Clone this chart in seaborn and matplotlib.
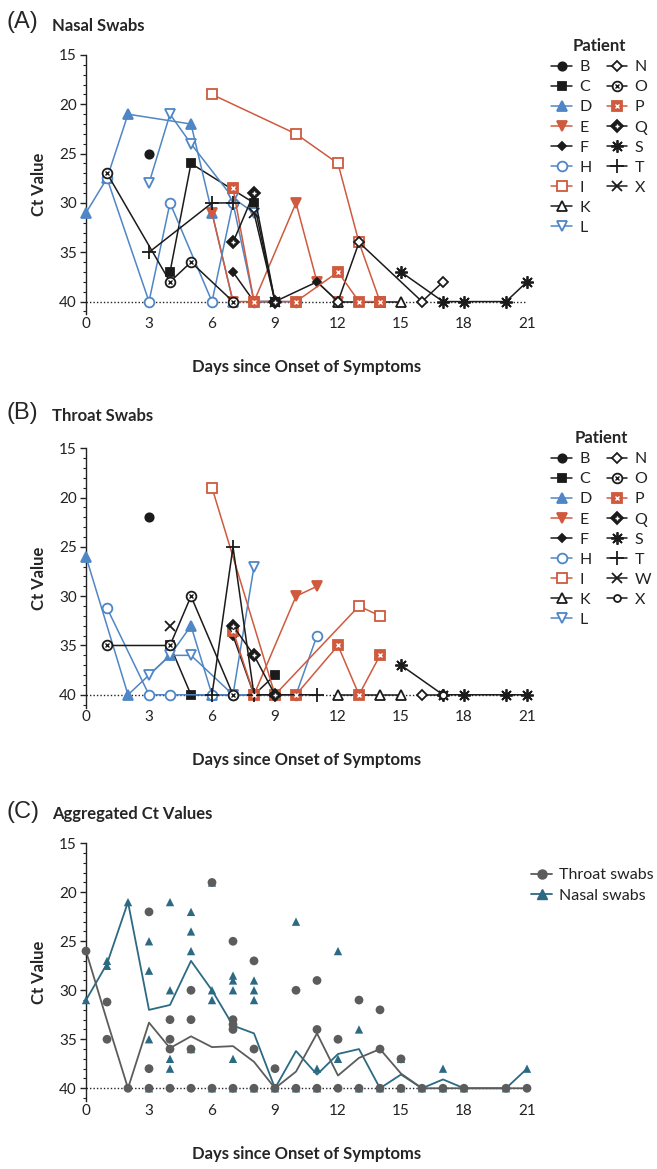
import matplotlib
matplotlib.use("Agg")
import matplotlib.pyplot as plt
import seaborn as sns
from matplotlib.lines import Line2D
from matplotlib.legend_handler import HandlerTuple
from matplotlib.ticker import MultipleLocator

sns.set_style("white")
plt.rcParams['font.family'] = ['Lato', 'DejaVu Sans']

BLUE = '#4f86c6'
RED = '#cf5a3e'
BLK = '#1b1b1b'
GREY = '#5c5c5c'
TEAL = '#2c6a83'

# nasal swabs, per patient: (days, ct)
nasal = {
    'B': ([3], [25]),
    'C': ([4, 5, 8, 9], [37, 26, 30, 40]),
    'D': ([0, 1, 2, 5, 6, 7], [31, 27.5, 21, 22, 31, 40]),
    'E': ([6, 7, 8, 10, 11, 12], [31, 40, 40, 30, 38, 40]),
    'F': ([7, 8, 9, 11, 12], [37, 40, 40, 38, 40]),
    'H': ([1, 3, 4, 6, 7, 8, 10], [27.5, 40, 30, 40, 30, 40, 40]),
    'I': ([6, 10, 12, 13, 14], [19, 23, 26, 34, 40]),
    'K': ([12, 14, 15], [40, 40, 40]),
    'L': ([3, 4, 5, 7, 8], [28, 21, 24, 29.5, 31]),
    'N': ([12, 13, 16, 17], [40, 34, 40, 38]),
    'O': ([1, 4, 5, 7], [27, 38, 36, 40]),
    'P': ([7, 8, 10, 12, 13, 14], [28.5, 40, 40, 37, 40, 40]),
    'Q': ([7, 8, 9], [34, 29, 40]),
    'S': ([15, 17, 18, 20, 21], [37, 40, 40, 40, 38]),
    'T': ([3, 6, 7], [35, 30, 30]),
    'X': ([8, 9], [31, 40]),
}

# throat swabs, per patient
throat = {
    'B': ([3], [22]),
    'C': ([4, 5, 8, 9], [35, 40, 40, 38]),
    'D': ([0, 2, 4, 5, 6], [26, 40, 36, 33, 40]),
    'E': ([7, 8, 10, 11], [40, 40, 30, 29]),
    'F': ([7, 8], [34, 40]),
    'H': ([1, 3, 4, 6, 7, 9, 10, 11], [31.2, 40, 40, 40, 40, 40, 40, 34]),
    'I': ([6, 9, 13, 14], [19, 40, 31, 32]),
    'K': ([12, 14, 15], [40, 40, 40]),
    'L': ([3, 4, 5, 7, 8], [38, 36, 36, 40, 27]),
    'N': ([16, 17], [40, 40]),
    'O': ([1, 4, 5, 7], [35, 35, 30, 40]),
    'P': ([7, 8, 10, 12, 13, 14], [33.5, 40, 40, 35, 40, 36]),
    'Q': ([7, 8, 9], [33, 36, 40]),
    'S': ([15, 17, 18, 20, 21], [37, 40, 40, 40, 40]),
    'T': ([6, 7, 8, 11], [40, 25, 40, 40]),
    'W': ([4], [33]),
    'X': ([17], [40]),
}

# aggregated points
throat_pts = {0: [26], 1: [31.2, 35], 2: [40], 3: [22, 38, 40], 4: [33, 35, 36, 40],
              5: [30, 33, 36, 40], 6: [19, 40], 7: [25, 33, 33.5, 34, 40], 8: [27, 36, 40],
              9: [38, 40], 10: [30, 40], 11: [29, 34, 40], 12: [35, 40], 13: [31, 40],
              14: [32, 36, 40], 15: [37, 40], 16: [40], 17: [40], 18: [40], 20: [40], 21: [40]}
nasal_pts = {0: [31], 1: [27, 27.5], 2: [21], 3: [25, 28, 35, 40], 4: [21, 30, 37, 38],
             5: [22, 24, 26, 36], 6: [19, 30, 31, 40], 7: [28.5, 29, 30, 37, 40],
             8: [29, 30, 31, 40], 9: [40], 10: [23, 40], 11: [38, 40], 12: [26, 37],
             13: [34, 40], 14: [40], 15: [37, 40], 16: [40], 17: [38, 40], 18: [40],
             20: [40], 21: [38]}
mean_days = [0, 1, 2, 3, 4, 5, 6, 7, 8, 9, 10, 11, 12, 13, 14, 15, 16, 17, 18, 20, 21]
nasal_mean = [31, 27.3, 21, 32, 31.5, 27, 30, 33.6, 34.4, 40, 36.2, 38.6, 36.5, 36, 40,
              38.6, 40, 39.1, 40, 40, 38]
throat_mean = [26, 33.1, 40, 33.3, 35.9, 34.7, 35.8, 35.7, 37.3, 40, 38.3, 34.4, 38.7,
               36.9, 36, 38.5, 40, 40, 40, 40, 40]

# marker styles: color, marker, face, size, overlay
base_style = {
    'B': (BLK, 'o', BLK, 6, None),
    'C': (BLK, 's', BLK, 6, None),
    'D': (BLUE, '^', BLUE, 6.5, None),
    'E': (RED, 'v', RED, 6.5, None),
    'F': (BLK, 'D', BLK, 4, None),
    'H': (BLUE, 'o', 'white', 7, None),
    'I': (RED, 's', 'white', 7, None),
    'K': (BLK, '^', 'white', 7, None),
    'L': (BLUE, 'v', 'white', 7, None),
    'N': (BLK, 'D', 'white', 5.5, None),
    'O': (BLK, 'o', 'white', 7, ('x', BLK, 3.5)),
    'P': (RED, 's', RED, 7, ('x', 'white', 3.5)),
    'Q': (BLK, 'D', BLK, 6.5, ('+', 'white', 3.5)),
    'S': (BLK, (8, 2, 0), BLK, 9, None),
    'T': (BLK, '+', BLK, 10, None),
    'W': (BLK, 'x', BLK, 7, None),
}
nasal_style = dict(base_style, X=(BLK, 'x', BLK, 7, None))
throat_style = dict(base_style, X=(BLK, 'o', 'white', 5, None))

fig = plt.figure(figsize=(6.57, 11.69), dpi=100)
H = 1169.0


def make_ax(top_px, bottom_px):
    return fig.add_axes([86 / 657, 1 - bottom_px / H, (527 - 86) / 657, (bottom_px - top_px) / H])


def style_axes(ax):
    ax.set_xlim(0, 21)
    ax.set_ylim(41.3, 15)
    ax.set_yticks([15, 20, 25, 30, 35, 40])
    ax.set_xticks(range(0, 22, 3))
    ax.yaxis.set_minor_locator(MultipleLocator(1))
    for s in ['top', 'right', 'bottom']:
        ax.spines[s].set_visible(False)
    ax.spines['left'].set_linewidth(1.0)
    ax.spines['left'].set_color('#222222')
    ax.tick_params(axis='y', which='major', direction='out', length=4.5, width=1.0,
                   labelsize=11, colors='#222222', left=True, pad=2)
    ax.tick_params(axis='y', which='minor', direction='out', length=2.5, width=0.8,
                   left=True, colors='#222222')
    ax.tick_params(axis='x', which='both', length=0, labelsize=11, colors='#222222', pad=2)
    ax.axhline(40, ls=(0, (1, 1.5)), color='#222222', lw=1.0, zorder=1)
    ax.set_ylabel('Ct Value', fontsize=12, fontweight='bold', labelpad=9)
    ax.set_xlabel('Days since Onset of Symptoms', fontsize=12, fontweight='bold', labelpad=20)


def draw_patients(ax, data, styles):
    handles, labels = [], []
    for pid, (days, ct) in data.items():
        c, m, fc, ms, over = styles[pid]
        sns.lineplot(x=days, y=ct, ax=ax, color=c, marker=m, markersize=ms,
                     markerfacecolor=fc, markeredgecolor=c, markeredgewidth=1.3,
                     lw=1.1, errorbar=None, clip_on=False, zorder=3)
        h = Line2D([], [], color=c, marker=m, ms=ms, mfc=fc, mec=c, mew=1.3, lw=1.1)
        if over is not None:
            om, oc, oms = over
            ax.plot(days, ct, ls='none', marker=om, ms=oms, color=oc, mew=1.0,
                    clip_on=False, zorder=4)
            h = (h, Line2D([], [], ls='none', marker=om, ms=oms, color=oc, mew=1.0))
        handles.append(h)
        labels.append(pid)
    return handles, labels


def patient_legend(handles, labels, top_px):
    n1 = 9
    blank = Line2D([], [], ls='none')
    col1_h, col1_l = handles[:n1], labels[:n1]
    col2_h, col2_l = handles[n1:], labels[n1:]
    while len(col2_h) < n1:
        col2_h.append(blank)
        col2_l.append('')
    leg = fig.legend(col1_h + col2_h, col1_l + col2_l, ncol=2, loc='upper left',
                     bbox_to_anchor=(540 / 657, 1 - top_px / H), frameon=False,
                     fontsize=11.5, title='Patient', title_fontsize=12,
                     handlelength=1.3, handletextpad=0.45, columnspacing=0.95,
                     labelspacing=0.37, borderpad=0.2,
                     handler_map={tuple: HandlerTuple(ndivide=1)})
    leg.get_title().set_fontweight('bold')
    for t in leg.get_texts():
        t.set_color('#222222')


# Panel A
axA = make_ax(55, 314.4)
hA, lA = draw_patients(axA, nasal, nasal_style)
style_axes(axA)
patient_legend(hA, lA, 27)
fig.text(7 / 657, 1 - 22 / H, '(A)', fontsize=17, family='Liberation Sans', va='center')
fig.text(52 / 657, 1 - 26 / H, 'Nasal Swabs', fontsize=12, fontweight='bold', va='center')

# Panel B
axB = make_ax(448.3, 707.6)
hB, lB = draw_patients(axB, throat, throat_style)
style_axes(axB)
patient_legend(hB, lB, 419)
fig.text(7 / 657, 1 - 413 / H, '(B)', fontsize=17, family='Liberation Sans', va='center')
fig.text(52 / 657, 1 - 416 / H, 'Throat Swabs', fontsize=12, fontweight='bold', va='center')

# Panel C
axC = make_ax(843.3, 1101)
n_x = [d for d, v in nasal_pts.items() for _ in v]
n_y = [y for v in nasal_pts.values() for y in v]
t_x = [d for d, v in throat_pts.items() for _ in v]
t_y = [y for v in throat_pts.values() for y in v]
sns.lineplot(x=mean_days, y=nasal_mean, ax=axC, color=TEAL, lw=1.3, errorbar=None,
             clip_on=False, zorder=2)
sns.lineplot(x=mean_days, y=throat_mean, ax=axC, color=GREY, lw=1.3, errorbar=None,
             clip_on=False, zorder=2)
sns.scatterplot(x=n_x, y=n_y, ax=axC, color=TEAL, marker='^', s=36, edgecolor='none',
                clip_on=False, zorder=3)
sns.scatterplot(x=t_x, y=t_y, ax=axC, color=GREY, marker='o', s=40, edgecolor='none',
                clip_on=False, zorder=4)
style_axes(axC)
hc = [Line2D([], [], color=GREY, marker='o', ms=6.5, lw=1.3),
      Line2D([], [], color=TEAL, marker='^', ms=6.5, lw=1.3)]
legC = fig.legend(hc, ['Throat swabs', 'Nasal swabs'], loc='upper left',
                  bbox_to_anchor=(520 / 657, 1 - 857 / H), frameon=False, fontsize=11.5,
                  handlelength=1.3, handletextpad=0.45, labelspacing=0.4, borderpad=0.2)
for t in legC.get_texts():
    t.set_color('#222222')
fig.text(7 / 657, 1 - 812 / H, '(C)', fontsize=17, family='Liberation Sans', va='center')
fig.text(52 / 657, 1 - 814 / H, 'Aggregated Ct Values', fontsize=12, fontweight='bold',
         va='center')

fig.savefig('out.png', dpi=100)
